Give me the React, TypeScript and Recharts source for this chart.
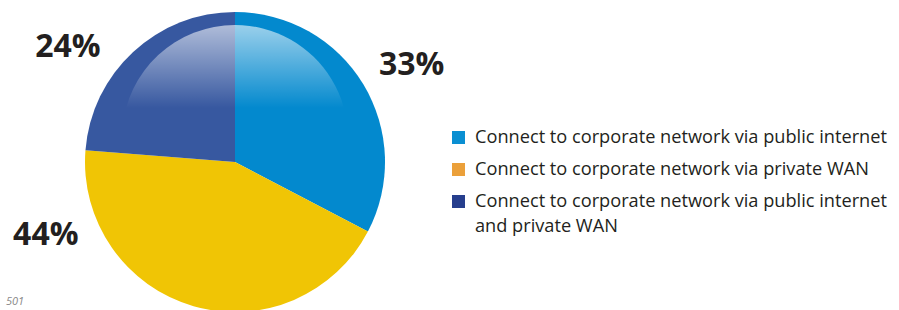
import { PieChart, Pie, Cell, Legend } from "recharts";

// share of respondents by connection method
const categories = [
  "Connect to corporate network via public internet",
  "Connect to corporate network via private WAN",
  "Connect to corporate network via public internet and private WAN",
];
const shares = [33, 44, 24];
const sliceColors = ["#0389CE", "#F0C505", "#3758A0"];
const legendColors = ["#0A8FD2", "#EBA03A", "#263E8D"];

const data = categories.map((name, i) => ({ name, value: shares[i] }));

// where each percentage sits around the pie (angle in degrees, distance from centre)
const labelSpots = [
  { angle: 29.5, dist: 203 },
  { angle: 200.5, dist: 202 },
  { angle: 145, dist: 204 },
];

const RADIAN = Math.PI / 180;

const renderLabel = (props: any) => {
  const { cx, cy, index, value } = props;
  const spot = labelSpots[index];
  const x = cx + spot.dist * Math.cos(spot.angle * RADIAN);
  const y = cy - spot.dist * Math.sin(spot.angle * RADIAN);
  return (
    <text
      x={x}
      y={y}
      textAnchor="middle"
      dominantBaseline="central"
      fill="#231F20"
      fontFamily="'Open Sans', sans-serif"
      fontWeight={700}
      fontSize={32}
    >
      {`${value}%`}
    </text>
  );
};

const renderLegend = () => (
  <div style={{ fontFamily: "'Open Sans', sans-serif", fontSize: 18.2, color: "#231F20" }}>
    {categories.map((name, i) => (
      <div
        key={name}
        style={{ display: "flex", alignItems: "flex-start", marginBottom: 9, width: 450 }}
      >
        <span
          style={{
            display: "inline-block",
            width: 13,
            height: 13,
            background: legendColors[i],
            marginTop: 6,
            marginRight: 10,
            flexShrink: 0,
          }}
        />
        {i === 2 ? (
          <div style={{ lineHeight: "24px", whiteSpace: "nowrap", marginTop: -1 }}>
            <div>Connect to corporate network via public internet</div>
            <div style={{ marginTop: 1 }}>and private WAN</div>
          </div>
        ) : (
          <span style={{ lineHeight: "23px", whiteSpace: "nowrap" }}>{name}</span>
        )}
      </div>
    ))}
  </div>
);

export default function App() {
  return (
    <div
      style={{
        position: "absolute",
        top: 0,
        left: 0,
        width: 899,
        height: 310,
        overflow: "hidden",
        background: "#fff",
      }}
    >
      <PieChart width={899} height={310} margin={{ top: 0, right: 0, bottom: 0, left: 0 }}>
        <defs>
          <linearGradient id="gloss" gradientUnits="userSpaceOnUse" x1="0" y1="25" x2="0" y2="108">
            <stop offset="0%" stopColor="#fff" stopOpacity={0.6} />
            <stop offset="100%" stopColor="#fff" stopOpacity={0} />
          </linearGradient>
        </defs>
        <Pie
          data={data}
          dataKey="value"
          cx={235}
          cy={162}
          outerRadius={150}
          startAngle={90}
          endAngle={-270}
          stroke="none"
          label={renderLabel}
          labelLine={false}
          isAnimationActive={false}
        >
          {data.map((d, i) => (
            <Cell key={d.name} fill={sliceColors[i]} />
          ))}
        </Pie>
        <Pie
          data={data}
          dataKey="value"
          cx={235}
          cy={138}
          outerRadius={113}
          startAngle={90}
          endAngle={-270}
          stroke="none"
          fill="url(#gloss)"
          legendType="none"
          isAnimationActive={false}
        />
        <Legend
          layout="vertical"
          content={renderLegend}
          wrapperStyle={{ left: 452, top: 125, width: 447 }}
        />
      </PieChart>
      <div
        style={{
          position: "absolute",
          left: 6,
          top: 294,
          fontFamily: "'Open Sans', sans-serif",
          fontStyle: "italic",
          fontSize: 11,
          lineHeight: "14px",
          color: "#888",
        }}
      >
        501
      </div>
    </div>
  );
}
